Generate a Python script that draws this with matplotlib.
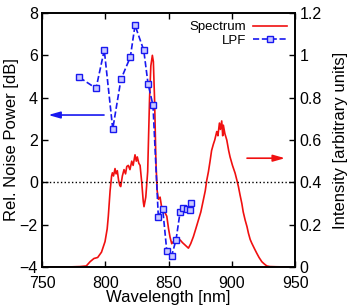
import matplotlib
matplotlib.use("Agg")
from matplotlib import pyplot as plt

plt.rcParams['font.family'] = ['Liberation Sans', 'DejaVu Sans']

# spectrum (right axis, arbitrary units)
spectrum_nm = [750, 770, 780, 785, 788, 791, 794, 797, 799.8, 801.5, 802.4, 803.8, 805, 805.6,
               806.5, 807.7, 808.5, 809.5, 810.5, 811.5, 812.2, 813.5, 814.8, 816, 817, 818.2,
               819.5, 820.9, 822, 823.5, 824.5, 825.3, 826.5, 827.5, 828.8, 830, 830.6, 832,
               833.5, 835, 836, 837.2, 838, 839, 840, 841, 842, 843.3, 844.6, 846, 848.6, 850,
               851.2, 852.5, 853.8, 856, 859.1, 861, 863, 865.7, 867.5, 869.6, 871.5, 873.6,
               875.5, 877.5, 879, 880.2, 881.5, 882.8, 884, 885.4, 886.5, 888.1, 889, 890.2,
               891, 892, 892.8, 893.3, 894.5, 896, 897.5, 898.6, 900.5, 902.6, 904, 905.2,
               906.5, 907.9, 909, 910.5, 912, 913.1, 914.5, 915.8, 918, 919.7, 921.5, 923.7,
               925.5, 927.6, 930, 935, 945]
spectrum_int = [0.0, 0.0, 0.002, 0.005, 0.025, 0.04, 0.045, 0.07, 0.12, 0.18, 0.24, 0.36, 0.43,
                0.445, 0.43, 0.465, 0.44, 0.455, 0.41, 0.385, 0.38, 0.43, 0.46, 0.44, 0.475,
                0.48, 0.46, 0.50, 0.48, 0.53, 0.50, 0.52, 0.49, 0.48, 0.40, 0.31, 0.285, 0.33,
                0.45, 0.80, 0.95, 1.0, 0.97, 0.78, 0.50, 0.36, 0.32, 0.33, 0.28, 0.27, 0.24,
                0.18, 0.14, 0.11, 0.12, 0.125, 0.128, 0.115, 0.104, 0.089, 0.11, 0.143, 0.18,
                0.222, 0.26, 0.317, 0.36, 0.41, 0.45, 0.50, 0.55, 0.58, 0.60, 0.64, 0.62, 0.68,
                0.65, 0.69, 0.62, 0.67, 0.63, 0.60, 0.55, 0.52, 0.48, 0.443, 0.41, 0.38, 0.34,
                0.30, 0.26, 0.222, 0.19, 0.16, 0.13, 0.112, 0.085, 0.065, 0.045, 0.025, 0.015,
                0.005, 0.002, 0.001, 0.0]

# LPF relative noise power (left axis, dB)
lpf_nm = [779.5, 792.7, 799.2, 805.9, 812.4, 819.8, 823.5, 830.4, 833.8, 837.7,
          841.9, 845.4, 848.6, 852.5, 855.9, 859.1, 861.7, 864.6, 867.0, 867.4]
lpf_db = [4.96, 4.44, 6.25, 2.52, 4.87, 5.92, 7.42, 6.24, 4.65, 3.64,
          -1.62, -1.27, -3.24, -3.46, -2.72, -1.41, -1.23, -1.28, -1.33, -0.96]

fig = plt.figure(figsize=(3.53, 3.06), dpi=100)
ax = fig.add_axes([0.119, 0.1275, 0.717, 0.83])
ax2 = ax.twinx()
ax.set_zorder(ax2.get_zorder() + 1)
ax.patch.set_visible(False)

ax.axhline(0, color='black', linestyle=':', linewidth=1.0)
spec_line, = ax2.plot(spectrum_nm, spectrum_int, color='#f01010', linewidth=1.2, label='Spectrum')
lpf_line, = ax.plot(lpf_nm, lpf_db, color='#1818f0', linestyle='--', linewidth=1.2,
                    marker='s', markersize=4.5, markerfacecolor='#c8c8ff',
                    markeredgecolor='#1818f0', markeredgewidth=1.0, label='LPF')

ax.set_xlim(750, 950)
ax.set_ylim(-4, 8)
ax2.set_ylim(0, 1.2)
ax.set_xticks([750, 800, 850, 900, 950])
ax.set_yticks([-4, -2, 0, 2, 4, 6, 8])
ax2.set_yticks([0, 0.2, 0.4, 0.6, 0.8, 1.0, 1.2])
ax2.set_yticklabels(['0', '0.2', '0.4', '0.6', '0.8', '1', '1.2'])

ax.tick_params(axis='x', direction='in', length=4, width=1, labelsize=11.5, top=True, pad=6.5)
ax.tick_params(axis='y', direction='in', length=4, width=1, labelsize=11.5, pad=3)
ax2.tick_params(direction='in', length=4, width=1, labelsize=11.5, pad=3)
for a in (ax, ax2):
    for s in a.spines.values():
        s.set_linewidth(1.2)

ax.set_xlabel('Wavelength [nm]', fontsize=12, labelpad=-0.5)
ax.set_ylabel('Rel. Noise Power [dB]', fontsize=12, labelpad=0)
ax2.set_ylabel('Intensity [arbitrary units]', fontsize=12, labelpad=8)

# direction arrows
ax.annotate('', xy=(755, 3.18), xytext=(799, 3.18),
            arrowprops=dict(arrowstyle='-|>,head_length=0.7,head_width=0.2',
                            color='#1818f0', lw=1.2, shrinkA=0, shrinkB=0))
ax.annotate('', xy=(942, 1.14), xytext=(912, 1.14),
            arrowprops=dict(arrowstyle='-|>,head_length=0.7,head_width=0.2',
                            color='#f01010', lw=1.2, shrinkA=0, shrinkB=0))

leg = ax.legend([spec_line, lpf_line], ['Spectrum', 'LPF'], loc='upper right',
                frameon=False, markerfirst=False, numpoints=1, fontsize=9.5,
                handlelength=2.6, handletextpad=0.5, labelspacing=0.1,
                borderaxespad=0.2)

fig.savefig('out.png', dpi=100)
